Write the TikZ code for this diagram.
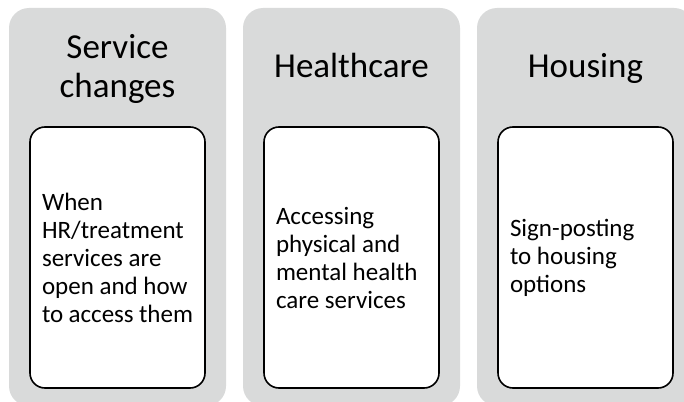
\documentclass[tikz,border=0pt]{standalone}
\usepackage{fontspec}
\setmainfont{Carlito}
\usepackage{tikz}
\hyphenpenalty=10000

\definecolor{panelgrey}{RGB}{217,218,218}

\tikzset{
    panel/.style={rectangle, fill=panelgrey, rounded corners=20pt,
        minimum width=217pt, minimum height=398pt, inner sep=0pt},
    card/.style={rectangle, draw=black, fill=white, line width=1.6pt,
        rounded corners=15pt, minimum width=175pt, minimum height=261pt,
        inner xsep=12pt, inner ysep=0pt, text width=151pt, align=flush left,
        font=\fontsize{25}{28}\selectfont},
    heading/.style={anchor=base, align=center, inner sep=0pt,
        font=\fontsize{35}{39}\selectfont}
}

\begin{document}
\begin{tikzpicture}[x=1pt, y=-1pt]
    \useasboundingbox (0,0) rectangle (684,401);
    \clip (0,0) rectangle (684,401);

    \node[panel] (p1) at (117.5,207) {};
    \node[panel] (p2) at (351.5,207) {};
    \node[panel] (p3) at (585.5,207) {};

    % base of a two-line heading is its last line
    \node[heading] (t1) at (117.5,97) {Service\\changes};
    \node[heading] (t2) at (351.5,78) {Healthcare};
    \node[heading] (t3) at (585.5,78) {Housing};

    \node[card] (c1) at (117.5,257.5) {When HR/treatment services are open and how to access them};
    \node[card] (c2) at (351.5,257.5) {Accessing physical and mental health care services};
    \node[card] (c3) at (585.5,257.5) {Sign-posting to housing options};
\end{tikzpicture}
\end{document}
